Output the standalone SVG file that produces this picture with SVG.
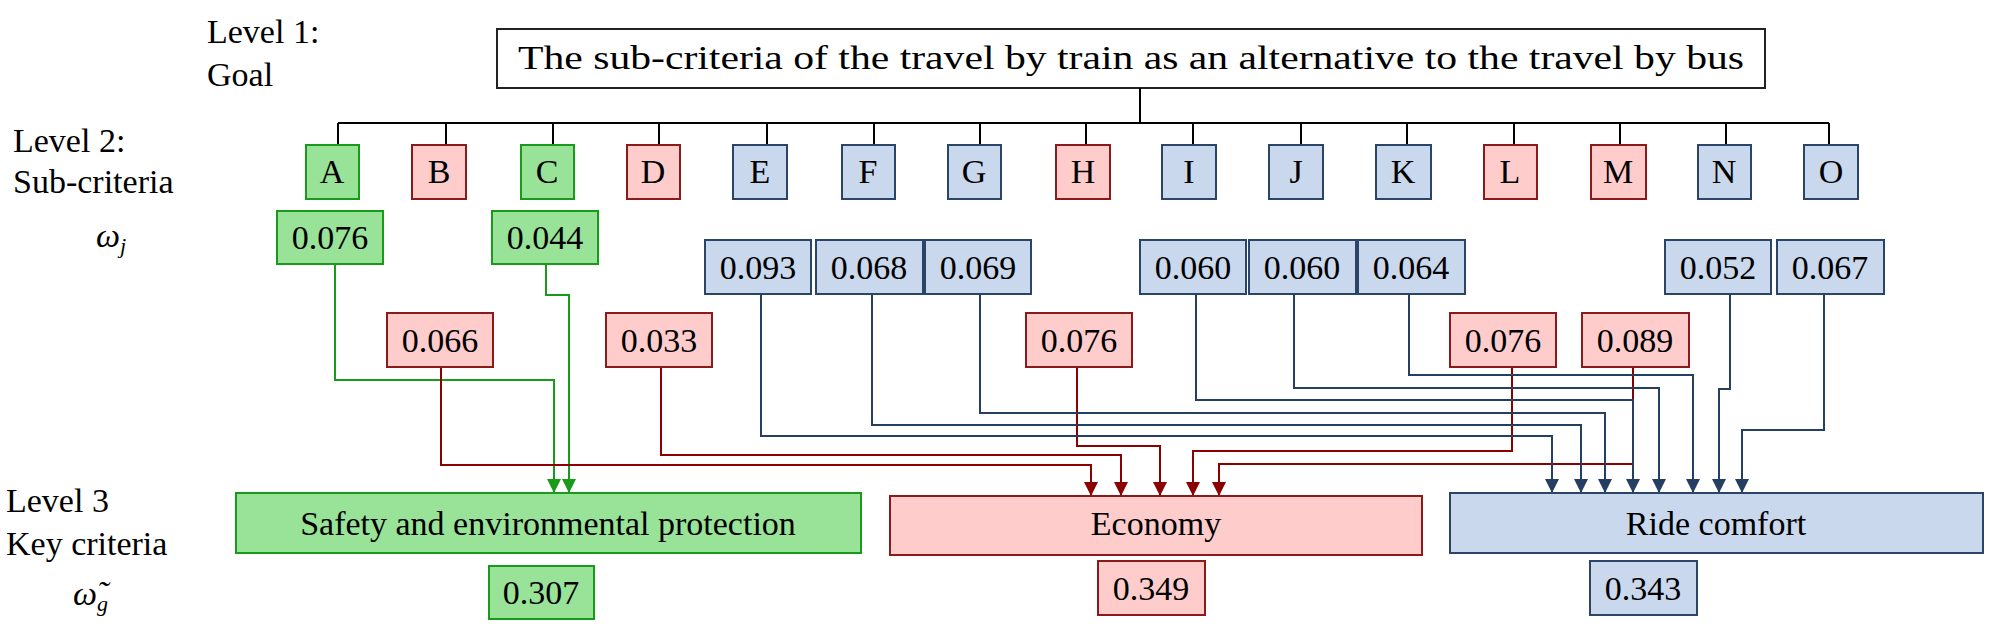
<svg xmlns="http://www.w3.org/2000/svg" width="1991" height="627" viewBox="0 0 1991 627">
<style>
text{font-family:"Liberation Serif","DejaVu Serif",serif;font-size:34px;fill:#000}
.c{text-anchor:middle}
.g{fill:#98e398;stroke:#1a9a1a;stroke-width:2}
.r{fill:#ffcccc;stroke:#8b1a1a;stroke-width:2}
.b{fill:#c9d8ec;stroke:#2a4566;stroke-width:2}
.w{fill:#fff;stroke:#222;stroke-width:2}
.k{fill:none;stroke:#000;stroke-width:2}
.lg{fill:none;stroke:#1a9a1a;stroke-width:2;marker-end:url(#ag)}
.lr{fill:none;stroke:#8b0000;stroke-width:2;marker-end:url(#ar)}
.lb{fill:none;stroke:#243f60;stroke-width:2;marker-end:url(#ab)}
</style>
<defs>
<marker id="ag" markerUnits="userSpaceOnUse" markerWidth="14" markerHeight="16" refX="14" refY="7" orient="auto"><path d="M0,0 L14,7 L0,14 Z" fill="#1a9a1a"/></marker>
<marker id="ar" markerUnits="userSpaceOnUse" markerWidth="14" markerHeight="16" refX="14" refY="7" orient="auto"><path d="M0,0 L14,7 L0,14 Z" fill="#8b0000"/></marker>
<marker id="ab" markerUnits="userSpaceOnUse" markerWidth="14" markerHeight="16" refX="14" refY="7" orient="auto"><path d="M0,0 L14,7 L0,14 Z" fill="#243f60"/></marker>
</defs>
<g id="labels">
<text x="207" y="43">Level 1:</text><text x="207" y="86">Goal</text>
<text x="13" y="152">Level 2:</text><text x="13" y="193">Sub-criteria</text>
<text x="96" y="247" font-style="italic">ω<tspan font-size="22" dy="6">j</tspan></text>
<text x="6" y="512">Level 3</text><text x="6" y="555">Key criteria</text>
<text x="73" y="605" font-style="italic">ω̃<tspan font-size="22" dy="6">g</tspan></text>
</g>
<g id="goal"><rect class="w" x="497" y="29" width="1268" height="59"/><text class="c" x="1131" y="69" textLength="1226" lengthAdjust="spacingAndGlyphs">The sub-criteria of the travel by train as an alternative to the travel by bus</text></g>
<g id="tree">
<path class="k" d="M1140,88V123M338,123H1829M338,123V145M446,123V145M553,123V145M659,123V145M767,123V145M874,123V145M980,123V145M1086,123V145M1193,123V145M1301,123V145M1407,123V145M1514,123V145M1620,123V145M1726,123V145M1829,123V145"/>
</g>
<g id="connectors">
<path class="lg" d="M335,264V380H554V493"/>
<path class="lg" d="M546,264V295H569V493"/>
<path class="lr" d="M441,367V465H1091V496"/>
<path class="lr" d="M661,367V455H1121V496"/>
<path class="lr" d="M1077,367V446H1160V496"/>
<path class="lr" d="M1512,367V451H1193V496"/>
<path class="lr" d="M1633,367V464H1219V496"/>
<path class="lb" d="M761,294V436H1552V493"/>
<path class="lb" d="M872,294V425H1581V493"/>
<path class="lb" d="M980,294V413H1605V493"/>
<path class="lb" d="M1196,294V400H1633V493"/>
<path class="lb" d="M1294,294V388H1659V493"/>
<path class="lb" d="M1409,294V375H1693V493"/>
<path class="lb" d="M1730,294V389H1719V493"/>
<path class="lb" d="M1824,294V430H1742V493"/>
</g>
<g id="A"><rect class="g" x="306" y="145" width="53" height="54"/><text class="c" x="332" y="183">A</text></g>
<g id="B"><rect class="r" x="412" y="145" width="54" height="54"/><text class="c" x="439" y="183">B</text></g>
<g id="C"><rect class="g" x="521" y="145" width="53" height="54"/><text class="c" x="547" y="183">C</text></g>
<g id="D"><rect class="r" x="627" y="145" width="53" height="54"/><text class="c" x="653" y="183">D</text></g>
<g id="E"><rect class="b" x="733" y="145" width="54" height="54"/><text class="c" x="760" y="183">E</text></g>
<g id="F"><rect class="b" x="842" y="145" width="53" height="54"/><text class="c" x="868" y="183">F</text></g>
<g id="G"><rect class="b" x="948" y="145" width="53" height="54"/><text class="c" x="974" y="183">G</text></g>
<g id="H"><rect class="r" x="1056" y="145" width="54" height="54"/><text class="c" x="1083" y="183">H</text></g>
<g id="I"><rect class="b" x="1162" y="145" width="54" height="54"/><text class="c" x="1189" y="183">I</text></g>
<g id="J"><rect class="b" x="1269" y="145" width="54" height="54"/><text class="c" x="1296" y="183">J</text></g>
<g id="K"><rect class="b" x="1376" y="145" width="55" height="54"/><text class="c" x="1403" y="183">K</text></g>
<g id="L"><rect class="r" x="1484" y="145" width="53" height="54"/><text class="c" x="1510" y="183">L</text></g>
<g id="M"><rect class="r" x="1591" y="145" width="55" height="54"/><text class="c" x="1618" y="183">M</text></g>
<g id="N"><rect class="b" x="1698" y="145" width="53" height="54"/><text class="c" x="1724" y="183">N</text></g>
<g id="O"><rect class="b" x="1804" y="145" width="54" height="54"/><text class="c" x="1831" y="183">O</text></g>
<g id="wA"><rect class="g" x="277" y="211" width="106" height="53"/><text class="c" x="330" y="249">0.076</text></g>
<g id="wC"><rect class="g" x="492" y="211" width="106" height="53"/><text class="c" x="545" y="249">0.044</text></g>
<g id="wE"><rect class="b" x="705" y="240" width="106" height="54"/><text class="c" x="758" y="279">0.093</text></g>
<g id="wF"><rect class="b" x="816" y="240" width="107" height="54"/><text class="c" x="869" y="279">0.068</text></g>
<g id="wG"><rect class="b" x="925" y="240" width="106" height="54"/><text class="c" x="978" y="279">0.069</text></g>
<g id="wI"><rect class="b" x="1140" y="240" width="106" height="54"/><text class="c" x="1193" y="279">0.060</text></g>
<g id="wJ"><rect class="b" x="1249" y="240" width="107" height="54"/><text class="c" x="1302" y="279">0.060</text></g>
<g id="wK"><rect class="b" x="1358" y="240" width="107" height="54"/><text class="c" x="1411" y="279">0.064</text></g>
<g id="wN"><rect class="b" x="1665" y="240" width="106" height="54"/><text class="c" x="1718" y="279">0.052</text></g>
<g id="wO"><rect class="b" x="1777" y="240" width="107" height="54"/><text class="c" x="1830" y="279">0.067</text></g>
<g id="wB"><rect class="r" x="387" y="313" width="106" height="54"/><text class="c" x="440" y="352">0.066</text></g>
<g id="wD"><rect class="r" x="606" y="313" width="106" height="54"/><text class="c" x="659" y="352">0.033</text></g>
<g id="wH"><rect class="r" x="1026" y="313" width="106" height="54"/><text class="c" x="1079" y="352">0.076</text></g>
<g id="wL"><rect class="r" x="1450" y="313" width="106" height="54"/><text class="c" x="1503" y="352">0.076</text></g>
<g id="wM"><rect class="r" x="1582" y="313" width="107" height="54"/><text class="c" x="1635" y="352">0.089</text></g>
<g id="safety"><rect class="g" x="236" y="493" width="625" height="60"/><text class="c" x="548" y="535">Safety and environmental protection</text></g>
<g id="economy"><rect class="r" x="890" y="496" width="532" height="59"/><text class="c" x="1156" y="535">Economy</text></g>
<g id="comfort"><rect class="b" x="1450" y="493" width="533" height="60"/><text class="c" x="1716" y="535">Ride comfort</text></g>
<g id="vS"><rect class="g" x="489" y="566" width="105" height="53"/><text class="c" x="541" y="604">0.307</text></g>
<g id="vE"><rect class="r" x="1098" y="561" width="107" height="54"/><text class="c" x="1151" y="600">0.349</text></g>
<g id="vR"><rect class="b" x="1590" y="561" width="107" height="54"/><text class="c" x="1643" y="600">0.343</text></g>
</svg>
